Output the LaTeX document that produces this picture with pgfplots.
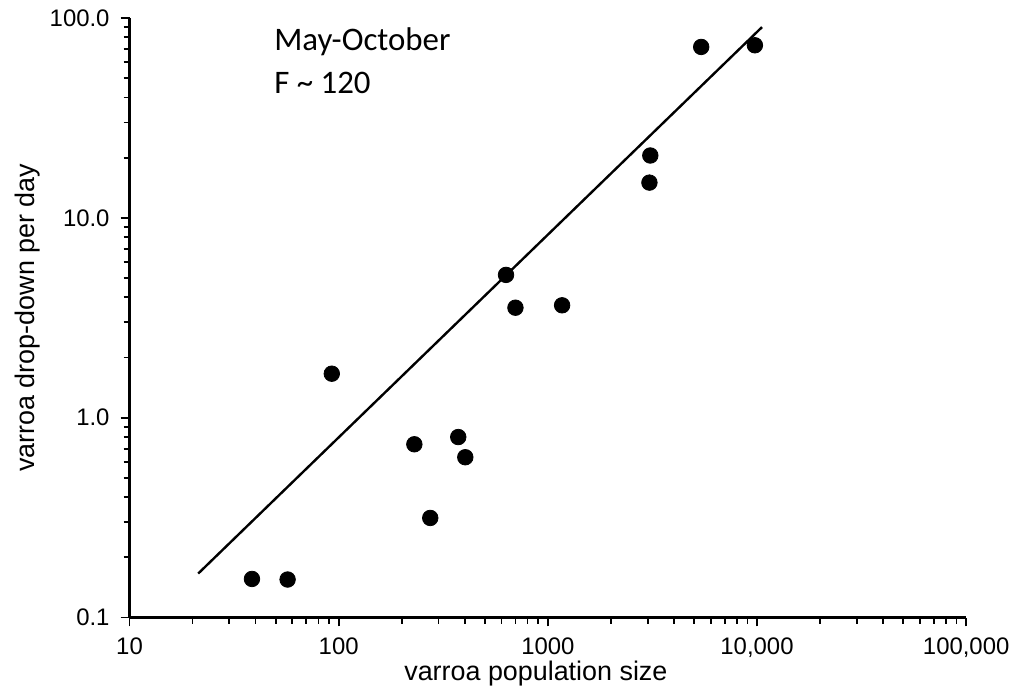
\documentclass[border=0pt]{standalone}
\usepackage{fontspec}
\setmainfont{Liberation Sans}
\newfontfamily\calibri{Carlito}
\usepackage{pgfplots}
\pgfplotsset{compat=1.18}

\begin{document}
\begin{tikzpicture}
\begin{axis}[
  scale only axis,
  width=420pt, height=301pt,
  xmode=log, ymode=log,
  xmin=10, xmax=100000,
  ymin=0.1, ymax=100,
  axis x line=bottom, axis y line=left,
  axis line style={-, line width=1.2pt},
  tick align=outside,
  major tick length=4.5pt, minor tick length=3pt,
  every tick/.style={black, line width=0.9pt},
  xtick={10,100,1000,10000,100000},
  xticklabels={10,100,1000,{10,000},{100,000}},
  ytick={0.1,1,10,100},
  yticklabels={0.1,1.0,10.0,100.0},
  /pgf/number format/assume math mode=true,
  tick label style={font=\fontsize{12}{14}\selectfont},
  xticklabel style={yshift=-2pt},
  yticklabel style={xshift=-2pt},
  xlabel={varroa population size},
  ylabel={varroa drop-down per day},
  label style={font=\fontsize{13.5}{15}\selectfont},
  xlabel style={yshift=5pt, xshift=-6pt},
  ylabel style={yshift=-2pt},
  clip=false,
]

% fitted regression line
\addplot[black, line width=1.2pt, mark=none] coordinates {
  (21.3,0.166) (10570,90)
};

% observed colonies
\addplot[only marks, mark=*, mark size=3.9pt, black] coordinates {
  (38.5,0.156) (57,0.155) (92.7,1.66)
  (230,0.736) (274,0.315) (373,0.80) (403,0.634)
  (631,5.18) (700,3.55) (1170,3.65)
  (3090,20.5) (3060,15.0)
  (5410,71.6) (9770,73)
};

\node[anchor=north west, align=left, inner sep=0pt,
      font=\calibri\fontsize{16.5}{22}\selectfont]
  at (rel axis cs:0.1726,0.985) {May-October\\F \textasciitilde{} 120};

% page size
\path (rel axis cs:-0.1548,-0.1229) rectangle (rel axis cs:1.0548,1.0299);
\end{axis}
\end{tikzpicture}
\end{document}
